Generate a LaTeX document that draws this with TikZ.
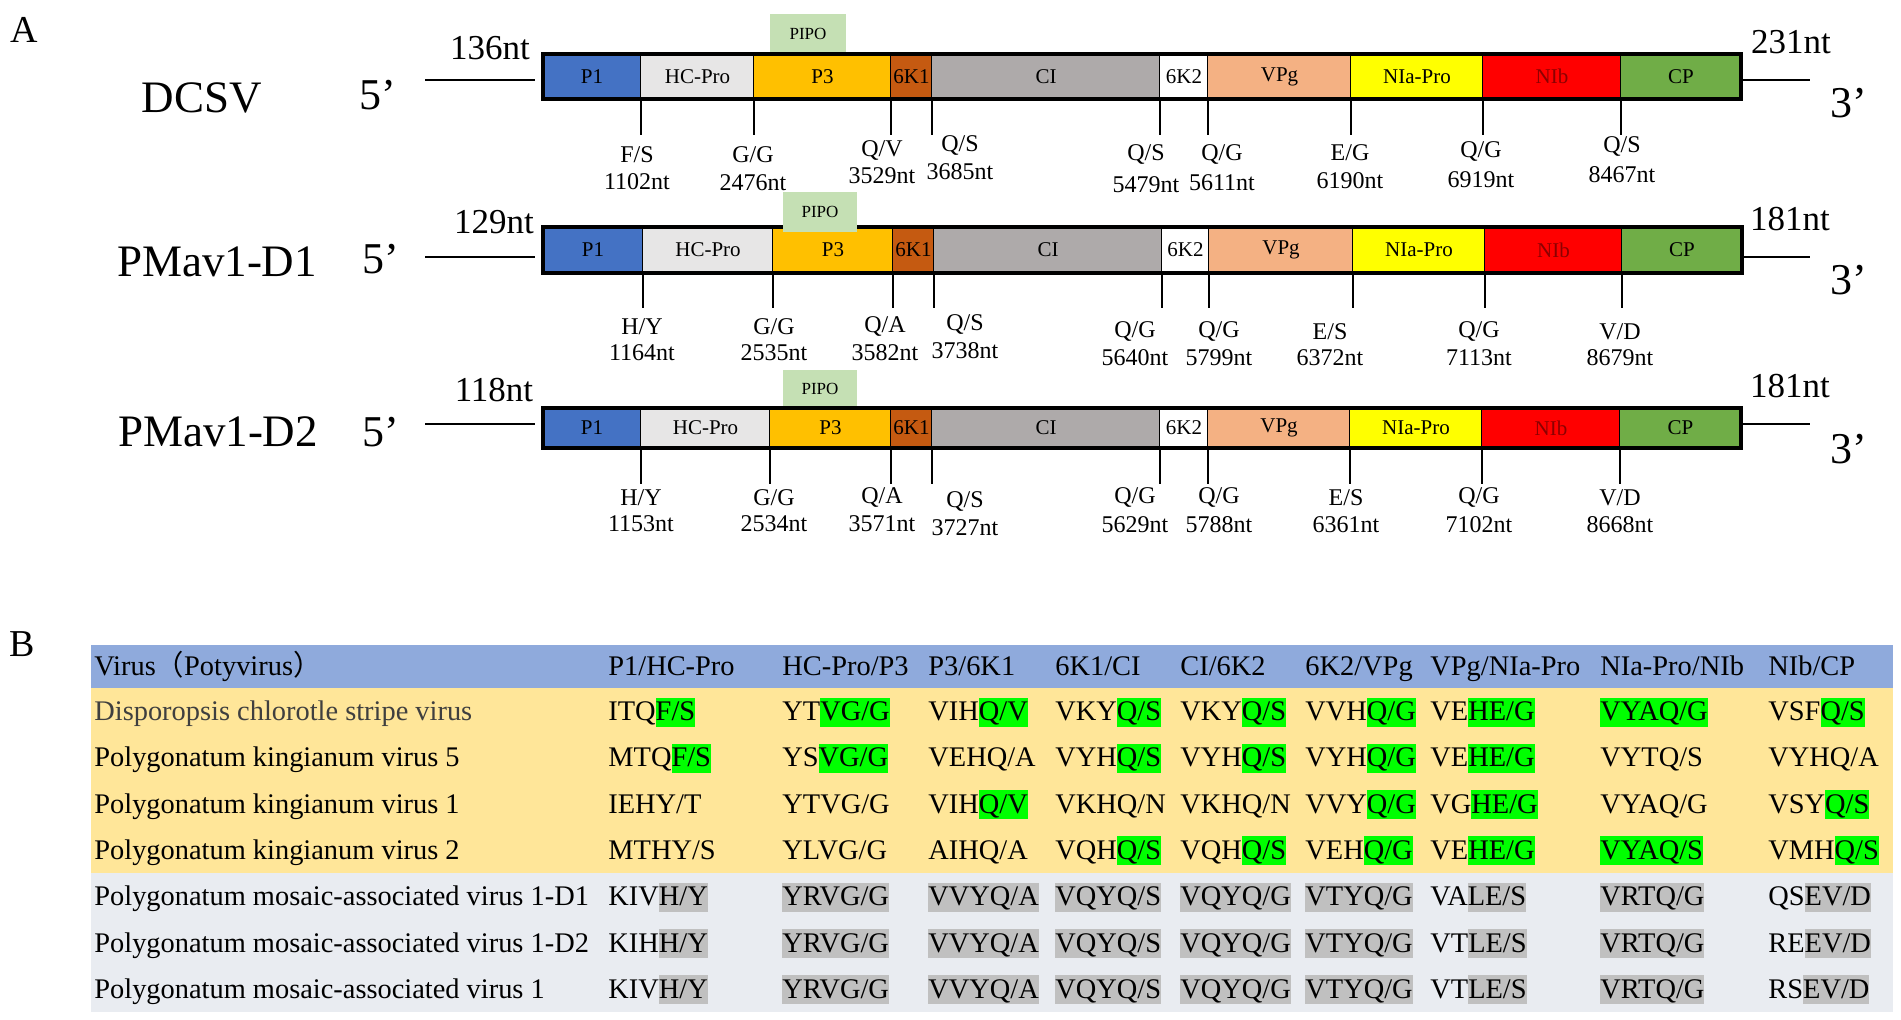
\documentclass[tikz,border=0pt]{standalone}
\usepackage{fontspec}
\setmainfont{Liberation Serif}
\newfontfamily\cjk{Noto Sans CJK SC}
\definecolor{cP1}{HTML}{4472C4}
\definecolor{cHC}{HTML}{E7E6E6}
\definecolor{cP3}{HTML}{FFC000}
\definecolor{cSKa}{HTML}{C55A11}
\definecolor{cCI}{HTML}{AEAAAA}
\definecolor{cSKb}{HTML}{FFFFFF}
\definecolor{cVPg}{HTML}{F4B183}
\definecolor{cNIa}{HTML}{FFFF00}
\definecolor{cNIb}{HTML}{FF0000}
\definecolor{cCP}{HTML}{70AD47}
\definecolor{nibtxt}{HTML}{8C0000}
\definecolor{pipo}{HTML}{C5E0B4}
\definecolor{hdr}{HTML}{8FAADC}
\definecolor{yel}{HTML}{FFE699}
\definecolor{gry}{HTML}{E9ECF1}
\definecolor{hlgreen}{HTML}{00FF00}
\definecolor{hlgray}{HTML}{C0C0C0}
\definecolor{dkname}{HTML}{3F3F3F}
\newcommand\hstrut{\rule[-2.8pt]{0pt}{14.2pt}}
\newcommand\hg[1]{{\setlength\fboxsep{0pt}\colorbox{hlgreen}{\hstrut#1}}}
\newcommand\hy[1]{{\setlength\fboxsep{0pt}\colorbox{hlgray}{\hstrut#1}}}
\tikzset{
  seglab/.style={font=\fontsize{10.5}{12}\selectfont, inner sep=0pt},
  cutlab/.style={font=\fontsize{12}{14}\selectfont, inner sep=0pt},
  endlab/.style={font=\fontsize{17.5}{20}\selectfont, inner sep=0pt},
  primelab/.style={font=\fontsize{22}{26}\selectfont, inner sep=0pt},
  namelab/.style={font=\fontsize{22.5}{26}\selectfont, inner sep=0pt},
  panel/.style={font=\fontsize{19}{22}\selectfont, inner sep=0pt},
  pipobox/.style={fill=pipo, draw=none, inner sep=0pt, font=\fontsize{8.5}{10}\selectfont},
  outer/.style={line width=1.6pt},
  segline/.style={line width=0.6pt},
  tick/.style={line width=0.9pt},
  utr/.style={line width=1.2pt},
  cell/.style={font=\fontsize{14.2}{17}\selectfont, inner sep=0pt, anchor=base west},
}
% #1 id, #2 top, #3 bottom, #4 segments xa/xb/color/label/textcolor
\newcommand\genomerow[4]{%
  \foreach \xa/\xb/\col/\lab/\tc [count=\i] in {#4} {
    \fill[\col] (\xa,#2) rectangle (\xb,#3);
    \draw[segline] (\xb,#2) -- (\xb,#3);
    \node[seglab, text=\tc] (#1s\i) at ({(\xa+\xb)/2},{(#2+#3)/2}) {\lab};
  }
}
% #1 id, #2 bottom, #3 tick end, #4 list tx/lx/ya/yb/ta/tb
\newcommand\cuts[4]{%
  \foreach \tx/\lx/\ya/\yb/\ta/\tb [count=\i] in {#4} {
    \coordinate (#1t\i) at (\tx,#2);
    \coordinate (#1e\i) at (\tx,#3);
    \draw[tick] (#1t\i) -- (#1e\i);
    \node[cutlab] (#1a\i) at (\lx,\ya) {\ta};
    \node[cutlab] (#1b\i) at (\lx,\yb) {\tb};
  }
}
\newcommand\trow[3]{%
  \foreach \ct [count=\i from 0] in {#3} {
    \pgfmathsetmacro\cx{{94,608,782,928,1055,1180,1305,1430,1600,1768}[\i]}
    \node[cell] (#1c\i) at (\cx,#2) {\ct};
  }
}
\begin{document}
\begin{tikzpicture}[x=0.5pt,y=-0.5pt]
\useasboundingbox (0,0) rectangle (1901,1020);
\fill[white] (0,0) rectangle (1901,1020);

% ---------------- Panel A ----------------
\node[panel] (A) at (24,30) {A};

% Row 1: DCSV
\node[namelab] (n1) at (202,98) {DCSV};
\node[primelab] (f1) at (378,95) {5’};
\node[primelab] (t1) at (1849,103) {3’};
\node[endlab] (u1) at (490,48) {136nt};
\node[endlab] (v1) at (1791,42) {231nt};
\node[pipobox, minimum width=38pt, minimum height=20pt] (p1) at (808,34) {PIPO};
\coordinate (l1a) at (425,80); \coordinate (l1b) at (535,80);
\coordinate (r1a) at (1742,80); \coordinate (r1b) at (1810,80);
\draw[utr] (l1a) -- (l1b);
\draw[utr] (r1a) -- (r1b);
\genomerow{g1}{54}{99}{543/641/cP1/P1/black, 641/754/cHC/HC-Pro/black, 754/891/cP3/P3/black, 891/932/cSKa/6K1/black, 932/1160/cCI/CI/black, 1160/1208/cSKb/6K2/black, 1208/1351/cVPg/VPg/black, 1351/1483/cNIa/NIa-Pro/black, 1483/1621/cNIb/NIb/nibtxt, 1621/1741/cCP/CP/black}
\draw[outer] (543,54) rectangle (1741,99);
\cuts{k1}{99}{135}{641/637/155/182/{F/S}/1102nt, 754/753/155/183/{G/G}/2476nt, 891/882/151/176/{Q/V}/3529nt, 932/960/146/172/{Q/S}/3685nt, 1160/1146/155/185/{Q/S}/5479nt, 1208/1222/155/183/{Q/G}/5611nt, 1351/1350/153/181/{E/G}/6190nt, 1483/1481/152/180/{Q/G}/6919nt, 1621/1622/147/175/{Q/S}/8467nt}

% Row 2: PMav1-D1
\node[namelab] (n2) at (217,262) {PMav1-D1};
\node[primelab] (f2) at (381,259) {5’};
\node[primelab] (t2) at (1849,280) {3’};
\node[endlab] (u2) at (494,222) {129nt};
\node[endlab] (v2) at (1790,219) {181nt};
\coordinate (l2a) at (425,257); \coordinate (l2b) at (535,257);
\coordinate (r2a) at (1742,257); \coordinate (r2b) at (1810,257);
\draw[utr] (l2a) -- (l2b);
\draw[utr] (r2a) -- (r2b);
\genomerow{g2}{227}{273}{543/643/cP1/P1/black, 643/773/cHC/HC-Pro/black, 773/893/cP3/P3/black, 893/934/cSKa/6K1/black, 934/1162/cCI/CI/black, 1162/1209/cSKb/6K2/black, 1209/1353/cVPg/VPg/black, 1353/1485/cNIa/NIa-Pro/black, 1485/1622/cNIb/NIb/nibtxt, 1622/1742/cCP/CP/black}
\draw[outer] (543,227) rectangle (1742,273);
\node[pipobox, minimum width=37pt, minimum height=20pt] (p2) at (820,212) {PIPO};
\cuts{k2}{273}{308}{643/642/327/353/{H/Y}/1164nt, 773/774/327/353/{G/G}/2535nt, 893/885/327/353/{Q/A}/3582nt, 934/965/325/351/{Q/S}/3738nt, 1162/1135/332/358/{Q/G}/5640nt, 1209/1219/332/358/{Q/G}/5799nt, 1353/1330/332/358/{E/S}/6372nt, 1485/1479/332/358/{Q/G}/7113nt, 1622/1620/332/358/{V/D}/8679nt}

% Row 3: PMav1-D2
\node[namelab] (n3) at (218,432) {PMav1-D2};
\node[primelab] (f3) at (381,432) {5’};
\node[primelab] (t3) at (1849,449) {3’};
\node[endlab] (u3) at (494,390) {118nt};
\node[endlab] (v3) at (1790,386) {181nt};
\node[pipobox, minimum width=37pt, minimum height=19pt] (p3) at (820,389) {PIPO};
\coordinate (l3a) at (425,424); \coordinate (l3b) at (535,424);
\coordinate (r3a) at (1741,424); \coordinate (r3b) at (1810,424);
\draw[utr] (l3a) -- (l3b);
\draw[utr] (r3a) -- (r3b);
\genomerow{g3}{408}{448}{543/641/cP1/P1/black, 641/770/cHC/HC-Pro/black, 770/891/cP3/P3/black, 891/932/cSKa/6K1/black, 932/1160/cCI/CI/black, 1160/1208/cSKb/6K2/black, 1208/1350/cVPg/VPg/black, 1350/1482/cNIa/NIa-Pro/black, 1482/1620/cNIb/NIb/nibtxt, 1620/1741/cCP/CP/black}
\draw[outer] (543,408) rectangle (1741,448);
\cuts{k3}{448}{484}{641/641/498/524/{H/Y}/1153nt, 770/774/498/524/{G/G}/2534nt, 891/882/498/524/{Q/A}/3571nt, 932/965/502/528/{Q/S}/3727nt, 1160/1135/498/525/{Q/G}/5629nt, 1208/1219/498/525/{Q/G}/5788nt, 1350/1346/498/525/{E/S}/6361nt, 1482/1479/498/525/{Q/G}/7102nt, 1620/1620/498/525/{V/D}/8668nt}

% ---------------- Panel B ----------------
\node[panel] (B) at (22,644) {B};
\fill[hdr] (91,645) rectangle (1893,688);
\fill[yel] (91,688) rectangle (1893,873);
\fill[gry] (91,873) rectangle (1893,1012);

\trow{h}{676}{Virus{\cjk （}Potyvirus{\cjk ）}, P1/HC-Pro, HC-Pro/P3, P3/6K1, 6K1/CI, CI/6K2, 6K2/VPg, VPg/NIa-Pro, NIa-Pro/NIb, NIb/CP}
\trow{a}{721}{{\color{dkname}Disporopsis chlorotle stripe virus}, ITQ\hg{F/S}, YT\hg{VG/G}, VIH\hg{Q/V}, VKY\hg{Q/S}, VKY\hg{Q/S}, VVH\hg{Q/G}, VE\hg{HE/G}, \hg{VYAQ/G}, VSF\hg{Q/S}}
\trow{b}{767}{Polygonatum kingianum virus 5, MTQ\hg{F/S}, YS\hg{VG/G}, VEHQ/A, VYH\hg{Q/S}, VYH\hg{Q/S}, VYH\hg{Q/G}, VE\hg{HE/G}, VYTQ/S, VYHQ/A}
\trow{c}{813}{Polygonatum kingianum virus 1, IEHY/T, YTVG/G, VIH\hg{Q/V}, VKHQ/N, VKHQ/N, VVY\hg{Q/G}, VG\hg{HE/G}, VYAQ/G, VSY\hg{Q/S}}
\trow{d}{859}{Polygonatum kingianum virus 2, MTHY/S, YLVG/G, AIHQ/A, VQH\hg{Q/S}, VQH\hg{Q/S}, VEH\hg{Q/G}, VE\hg{HE/G}, \hg{VYAQ/S}, VMH\hg{Q/S}}
\trow{e}{906}{Polygonatum mosaic-associated virus 1-D1, KIV\hy{H/Y}, \hy{YRVG/G}, \hy{VVYQ/A}, \hy{VQYQ/S}, \hy{VQYQ/G}, \hy{VTYQ/G}, VA\hy{LE/S}, \hy{VRTQ/G}, QS\hy{EV/D}}
\trow{f}{952}{Polygonatum mosaic-associated virus 1-D2, KIH\hy{H/Y}, \hy{YRVG/G}, \hy{VVYQ/A}, \hy{VQYQ/S}, \hy{VQYQ/G}, \hy{VTYQ/G}, VT\hy{LE/S}, \hy{VRTQ/G}, RE\hy{EV/D}}
\trow{g}{998}{Polygonatum mosaic-associated virus 1, KIV\hy{H/Y}, \hy{YRVG/G}, \hy{VVYQ/A}, \hy{VQYQ/S}, \hy{VQYQ/G}, \hy{VTYQ/G}, VT\hy{LE/S}, \hy{VRTQ/G}, RS\hy{EV/D}}
\end{tikzpicture}
\end{document}
